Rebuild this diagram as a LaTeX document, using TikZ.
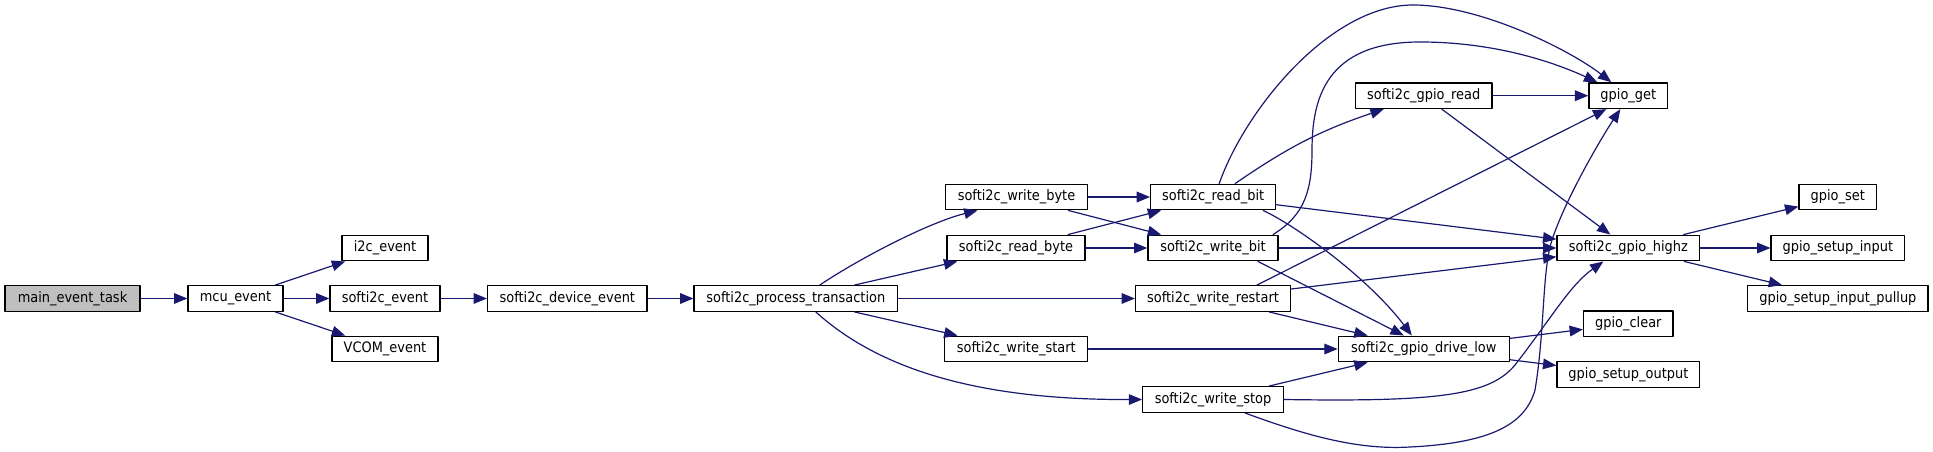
\documentclass[tikz,border=0pt]{standalone}
\usepackage{fontspec}
\setmainfont{DejaVu Sans Condensed}
\usetikzlibrary{arrows.meta,calc}
\definecolor{edgeblue}{HTML}{191970}

\begin{document}
\begin{tikzpicture}[line cap=round,line join=round,x=0.75pt,y=-0.75pt,
  fn/.style={draw=black,line width=1pt,fill=white,minimum height=19.2pt,inner sep=0pt,font=\fontsize{10.8}{12}\selectfont},
  wd/.style={minimum width=#1*0.75pt},
  call/.style={draw=edgeblue,line width=0.9pt,-{Triangle[length=10pt,width=8pt]}}]
\useasboundingbox (0,0) rectangle (1933,452);

% functions
\node[fn,wd=135,fill=gray!50] (maintask) at (72.5,298.5) {main\_event\_task};
\node[fn,wd=95] (mcuevent) at (235.5,298.5) {mcu\_event};
\node[fn,wd=86] (i2cevent) at (385,248) {i2c\_event};
\node[fn,wd=110] (swevent) at (385,298.5) {softi2c\_event};
\node[fn,wd=106] (vcomevent) at (385,349) {VCOM\_event};
\node[fn,wd=159.4] (devevent) at (567.3,298.5) {softi2c\_device\_event};
\node[fn,wd=203.5] (proctrans) at (795.8,298.5) {softi2c\_process\_transaction};
\node[fn,wd=141.8] (wbyte) at (1016.5,197) {softi2c\_write\_byte};
\node[fn,wd=138] (rbyte) at (1016,248) {softi2c\_read\_byte};
\node[fn,wd=143] (wstart) at (1016.3,349) {softi2c\_write\_start};
\node[fn,wd=125] (rbit) at (1213.2,197) {softi2c\_read\_bit};
\node[fn,wd=130] (wbit) at (1213,248) {softi2c\_write\_bit};
\node[fn,wd=154.8] (wrestart) at (1213,298.5) {softi2c\_write\_restart};
\node[fn,wd=140.5] (wstop) at (1213,399.5) {softi2c\_write\_stop};
\node[fn,wd=136.6] (gpioread) at (1423.7,95.7) {softi2c\_gpio\_read};
\node[fn,wd=78.7] (gpioget) at (1628.3,95.7) {gpio\_get};
\node[fn,wd=142.8] (highz) at (1628.4,248) {softi2c\_gpio\_highz};
\node[fn,wd=171] (drivelow) at (1423.8,349) {softi2c\_gpio\_drive\_low};
\node[fn,wd=77.4] (gpioset) at (1837.7,197) {gpio\_set};
\node[fn,wd=133.7] (setupin) at (1837.9,248) {gpio\_setup\_input};
\node[fn,wd=180.3] (setuppull) at (1837.9,298.5) {gpio\_setup\_input\_pullup};
\node[fn,wd=89.4] (gpioclear) at (1628.3,323.8) {gpio\_clear};
\node[fn,wd=142.8] (setupout) at (1628.4,374.5) {gpio\_setup\_output};

% calls
\draw[call] (maintask) -- (mcuevent);
\draw[call] (mcuevent) -- (i2cevent);
\draw[call] (mcuevent) -- (swevent);
\draw[call] (mcuevent) -- (vcomevent);
\draw[call] (swevent) -- (devevent);
\draw[call] (devevent) -- (proctrans);
\draw[call] ($(proctrans.north)+(24,0)$) .. controls (860,258) and (930,222) .. ($(wbyte.south)+(-39,0)$);
\draw[call] (proctrans) -- (rbyte);
\draw[call] (proctrans) -- (wrestart);
\draw[call] (proctrans) -- (wstart);
\draw[call] ($(proctrans.south)+(20,0)$) .. controls (880,370) and (980,400) .. (wstop.west);
\draw[call] (wbyte) -- (rbit);
\draw[call] (wbyte) -- (wbit);
\draw[call] (rbyte) -- (rbit);
\draw[call] (rbyte) -- (wbit);

\draw[call] ($(rbit.north)+(6,0)$) .. controls (1245,110) and (1330,5) .. (1413,5) .. controls (1480,5) and (1570,50) .. ($(gpioget.north)+(-17,0)$);
\draw[call] ($(rbit.north)+(22,0)$) to[bend left=8] ($(gpioread.south)+(-40,0)$);
\draw[call] (rbit) -- (highz);
\draw[call] ($(rbit.south)+(50,0)$) .. controls (1300,228) and (1370,280) .. ($(drivelow.north)+(-12,0)$);

\draw[call] ($(wbit.north)+(60,0)$) .. controls (1305,215) and (1312,190) .. (1312,150) .. controls (1312,100) and (1325,42) .. (1420,42) .. controls (1500,42) and (1560,65) .. ($(gpioget.north)+(-31,0)$);
\draw[call] (wbit) -- (highz);
\draw[call] ($(wbit.south)+(45,0)$) -- ($(drivelow.north)+(-20,0)$);

\draw[call] ($(wrestart.north)+(44,0)$) -- ($(gpioget.south)+(-22,0)$);
\draw[call] (wrestart) -- (highz);
\draw[call] (wrestart) -- (drivelow);
\draw[call] (wstart) -- (drivelow);
\draw[call] (wstop) -- (drivelow);
\draw[call] (wstop.east) .. controls (1440,402) and (1490,395) .. (1515,365) .. controls (1550,320) and (1570,285) .. ($(highz.south)+(-25,0)$);
\draw[call] ($(wstop.south)+(32,0)$) .. controls (1310,437) and (1360,450) .. (1410,447) .. controls (1490,443) and (1525,425) .. (1535,390) .. controls (1545,330) and (1542,270) .. (1552,240) .. controls (1565,200) and (1600,140) .. ($(gpioget.south)+(-8,0)$);

\draw[call] (gpioread) -- (gpioget);
\draw[call] (gpioread) -- (highz);
\draw[call] (highz) -- (gpioset);
\draw[call] (highz) -- (setupin);
\draw[call] (highz) -- (setuppull);
\draw[call] (drivelow) -- (gpioclear);
\draw[call] (drivelow) -- (setupout);
\end{tikzpicture}
\end{document}
